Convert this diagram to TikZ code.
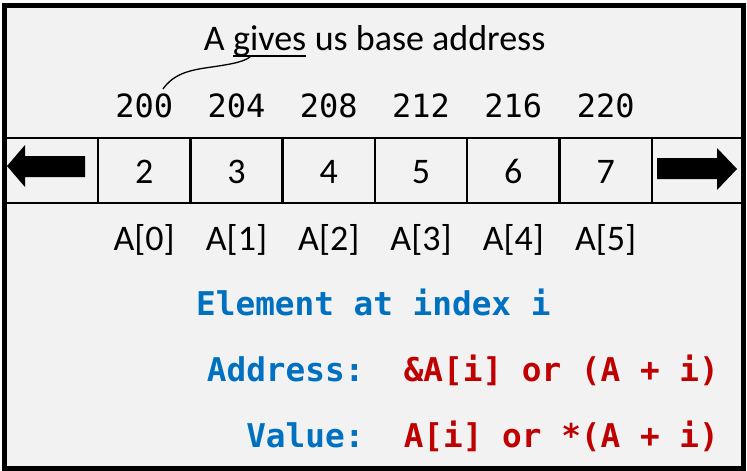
\documentclass[tikz,border=0pt]{standalone}
\usepackage{fontspec}
\setmainfont{Carlito}
\newfontfamily\monof{DejaVu Sans Mono}
\usetikzlibrary{calc}
\definecolor{bgc}{HTML}{F2F2F2}
\definecolor{cblue}{HTML}{0070C0}
\definecolor{cred}{HTML}{C00000}
\begin{document}
\begin{tikzpicture}[x=1pt,y=-1pt,
  txt/.style={inner sep=0pt, font=\fontsize{36}{40}\selectfont},
  addr/.style={inner sep=0pt, font=\monof\fontsize{32}{36}\selectfont},
  cell/.style={draw, line width=2.5pt, minimum width=92.3pt, minimum height=65pt, inner sep=0pt},
  celltxt/.style={inner sep=0pt, font=\fontsize{36}{40}\selectfont},
  code/.style={inner sep=0pt, font=\monof\bfseries\fontsize{32.7}{36}\selectfont},
  band/.style={line width=2.5pt},
  blockarrow/.style={fill=black}]
\useasboundingbox (0,0) rectangle (747,471);
\fill[white] (0,0) rectangle (747,471);
\draw[line width=5pt, fill=bgc] (4.5,5.5) rectangle (743.5,468.5);

% title
\node[txt, anchor=base] (tg) at (269.7,50) {gives};
\node[txt, anchor=base east] (tA) at ($(tg.base west)+(-8.1,0)$) {A};
\node[txt, anchor=base west] (tu) at ($(tg.base east)+(8.1,0)$) {us base address};
\draw[line width=2pt] ($(tg.base west)+(0,5.5)$) -- ($(tg.base east)+(0,5.5)$);

% band
\draw[band] (4.5,138) -- (743.5,138);
\draw[band] (4.5,203) -- (743.5,203);

\foreach \v/\ad [count=\i from 0] in {2/200,3/204,4/208,5/212,6/216,7/220}{
  \pgfmathsetmacro{\cx}{144.15+92.3*\i}
  \node[cell] (c\i) at (\cx,170.5) {};
  \node[celltxt, anchor=base] (v\i) at (\cx,183.5) {\v};
  \node[addr, anchor=base] (a\i) at (\cx,117.7) {\ad};
  \node[txt, anchor=base] (n\i) at (\cx,250) {A[\i]};
}

% curve from "gives" to 200
\coordinate (cs) at (250,57);
\coordinate (ce) at (163,89);
\draw[line width=1.3pt] (cs) .. controls (242,63) and (225,65) .. (205,68)
      .. controls (185,71) and (172,76) .. (ce);

% block arrows
\fill[blockarrow] (7,166) -- (25,145) -- (25,156) -- (85,156) -- (85,177) -- (25,177) -- (25,187) -- cycle;
\fill[blockarrow] (737,169) -- (717,148) -- (717,158) -- (657,158) -- (657,179) -- (717,179) -- (717,190) -- cycle;

% code text
\node[code, anchor=base west, text=cblue] (el) at (196,315) {Element at index i};
\node[code, anchor=base east] (ad) at (719,381) {\textcolor{cblue}{Address:}\ \ \textcolor{cred}{\&A[i] or (A + i)}};
\node[code, anchor=base east] (va) at (719,447) {\textcolor{cblue}{Value:}\ \ \textcolor{cred}{A[i] or *(A + i)}};
\end{tikzpicture}
\end{document}
